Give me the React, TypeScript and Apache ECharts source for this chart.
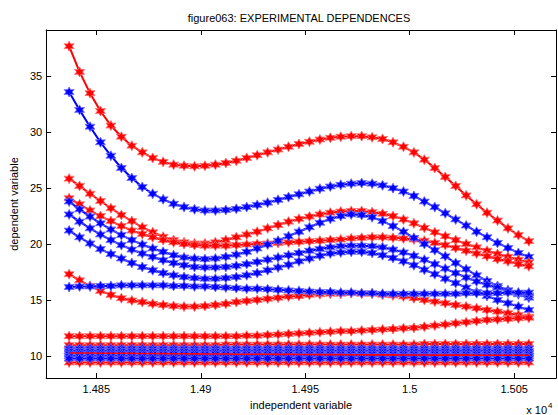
import React, { useEffect, useRef } from "react";
import * as echarts from "echarts";

const xValues = [
  14837, 14842, 14847, 14852, 14857, 14862, 14867, 14872, 14877, 14882, 14887, 14892, 14897, 14902, 14907,
  14912, 14917, 14922, 14927, 14932, 14937, 14942, 14947, 14952, 14957, 14962, 14967, 14972, 14977, 14982,
  14987, 14992, 14997, 15002, 15007, 15012, 15017, 15022, 15027, 15032, 15037, 15042, 15047, 15052, 15057,
];

const redA = [
  37.7, 35.4, 33.5, 31.9, 30.6, 29.6, 28.8, 28.2, 27.7, 27.35, 27.1, 27.0, 26.95, 27.0, 27.1,
  27.25, 27.45, 27.7, 27.95, 28.2, 28.45, 28.7, 28.95, 29.15, 29.35, 29.5, 29.6, 29.65, 29.65, 29.55,
  29.4, 29.1, 28.7, 28.2, 27.55, 26.8, 26.0, 25.2, 24.35, 23.55, 22.8, 22.1, 21.4, 20.8, 20.25,
];
const blueB = [
  33.6, 32.0, 30.5, 29.1, 27.9, 26.8, 25.9, 25.1, 24.5, 24.0, 23.6, 23.3, 23.1, 23.0, 23.0,
  23.05, 23.15, 23.3, 23.5, 23.7, 23.95, 24.2, 24.45, 24.7, 24.95, 25.15, 25.3, 25.4, 25.45, 25.4,
  25.25, 25.0, 24.7, 24.3, 23.8, 23.3, 22.75, 22.2, 21.65, 21.1, 20.6, 20.1, 19.65, 19.2, 18.85,
];
const redC = [
  25.85, 25.2, 24.5, 23.85, 23.2, 22.6, 22.05, 21.5, 21.05, 20.65, 20.35, 20.15, 20.05, 20.05, 20.15,
  20.35, 20.6, 20.85, 21.1, 21.4, 21.7, 22.0, 22.25, 22.45, 22.65, 22.8, 22.9, 22.95, 22.95, 22.85,
  22.7, 22.5, 22.2, 21.85, 21.45, 21.05, 20.7, 20.35, 20.0, 19.7, 19.4, 19.1, 18.85, 18.6, 18.35,
];
const redD = [
  24.1, 23.55, 23.0, 22.5, 22.05, 21.6, 21.2, 20.9, 20.6, 20.35, 20.15, 20.0, 19.9, 19.85, 19.85,
  19.85, 19.9, 19.95, 20.0, 20.05, 20.1, 20.15, 20.2, 20.25, 20.3, 20.35, 20.4, 20.5, 20.55, 20.6,
  20.6, 20.55, 20.5, 20.4, 20.3, 20.1, 19.9, 19.65, 19.4, 19.15, 18.9, 18.65, 18.45, 18.2, 18.0,
];
const blueE = [
  23.8, 23.1, 22.45, 21.85, 21.3, 20.8, 20.35, 19.95, 19.6, 19.3, 19.0, 18.8, 18.7, 18.65, 18.7,
  18.85, 19.05, 19.3, 19.6, 19.95, 20.3, 20.7, 21.1, 21.5, 21.9, 22.25, 22.5, 22.65, 22.6, 22.4,
  22.05, 21.6, 21.1, 20.55, 20.0, 19.45, 18.9, 18.3, 17.75, 17.2, 16.7, 16.25, 15.85, 15.5, 15.2,
];
const blueF = [
  22.65, 22.0, 21.4, 20.85, 20.35, 19.9, 19.5, 19.15, 18.85, 18.55, 18.3, 18.1, 17.95, 17.9, 17.9,
  17.95, 18.05, 18.2, 18.4, 18.6, 18.8, 19.0, 19.2, 19.4, 19.55, 19.7, 19.8, 19.85, 19.85, 19.8,
  19.7, 19.5, 19.25, 18.95, 18.6, 18.2, 17.8, 17.4, 17.0, 16.65, 16.35, 16.1, 15.85, 15.6, 15.4,
];
const blueG = [
  21.2, 20.6, 20.05, 19.55, 19.1, 18.7, 18.3, 17.95, 17.65, 17.4, 17.2, 17.05, 16.95, 16.9, 16.9,
  16.95, 17.05, 17.2, 17.4, 17.65, 17.9, 18.15, 18.45, 18.7, 18.95, 19.15, 19.25, 19.3, 19.3, 19.2,
  19.0, 18.75, 18.45, 18.1, 17.7, 17.3, 16.9, 16.5, 16.1, 15.7, 15.35, 15.0, 14.7, 14.4, 14.1,
];
const redH = [
  17.3, 16.75, 16.25, 15.8, 15.45, 15.15, 14.95, 14.8, 14.65, 14.55, 14.45, 14.4, 14.4, 14.45, 14.55,
  14.65, 14.8, 14.9, 15.0, 15.1, 15.2, 15.3, 15.35, 15.45, 15.5, 15.55, 15.55, 15.6, 15.55, 15.55,
  15.45, 15.4, 15.3, 15.15, 15.0, 14.85, 14.7, 14.55, 14.4, 14.25, 14.1, 13.95, 13.8, 13.65, 13.5,
];
const blueI = [
  16.15, 16.2, 16.2, 16.25, 16.25, 16.3, 16.3, 16.3, 16.3, 16.3, 16.25, 16.25, 16.2, 16.2, 16.15,
  16.1, 16.05, 16.0, 16.0, 15.95, 15.9, 15.85, 15.8, 15.75, 15.7, 15.7, 15.65, 15.65, 15.6, 15.6,
  15.55, 15.55, 15.55, 15.55, 15.55, 15.55, 15.55, 15.55, 15.6, 15.6, 15.6, 15.6, 15.65, 15.65, 15.65,
];
const redJ = [
  11.75, 11.75, 11.75, 11.75, 11.75, 11.75, 11.75, 11.75, 11.75, 11.75, 11.75, 11.75, 11.75, 11.75, 11.75,
  11.75, 11.75, 11.8, 11.8, 11.85, 11.9, 11.95, 12.0, 12.05, 12.1, 12.15, 12.2, 12.2, 12.25, 12.3,
  12.35, 12.4, 12.45, 12.5, 12.6, 12.7, 12.8, 12.9, 13.0, 13.1, 13.2, 13.25, 13.3, 13.35, 13.4,
];
const redK1 = [
  10.95, 10.95, 10.95, 10.95, 10.95, 10.95, 10.95, 10.95, 10.95, 10.95, 10.95, 10.95, 10.95, 10.95, 10.95,
  11.0, 11.0, 11.0, 11.0, 11.0, 11.0, 11.0, 11.0, 11.0, 11.0, 11.0, 11.0, 11.0, 11.0, 11.0,
  11.0, 11.0, 11.0, 11.0, 11.05, 11.05, 11.05, 11.05, 11.05, 11.05, 11.05, 11.05, 11.05, 11.05, 11.05,
];
const redK6 = [
  9.4, 9.4, 9.4, 9.4, 9.4, 9.4, 9.4, 9.4, 9.4, 9.4, 9.4, 9.4, 9.4, 9.4, 9.4,
  9.4, 9.4, 9.4, 9.4, 9.4, 9.4, 9.4, 9.4, 9.4, 9.4, 9.4, 9.4, 9.4, 9.4, 9.4,
  9.4, 9.4, 9.4, 9.4, 9.4, 9.4, 9.4, 9.4, 9.4, 9.4, 9.4, 9.4, 9.4, 9.4, 9.4,
];
const blueK2 = [
  10.65, 10.65, 10.65, 10.65, 10.65, 10.65, 10.65, 10.65, 10.65, 10.65, 10.65, 10.65, 10.65, 10.65, 10.65,
  10.65, 10.65, 10.65, 10.65, 10.65, 10.65, 10.65, 10.65, 10.65, 10.65, 10.65, 10.65, 10.65, 10.65, 10.65,
  10.65, 10.65, 10.65, 10.65, 10.65, 10.65, 10.65, 10.65, 10.65, 10.65, 10.65, 10.65, 10.65, 10.65, 10.65,
];
const blueK3 = [
  10.2, 10.2, 10.2, 10.2, 10.2, 10.2, 10.2, 10.2, 10.2, 10.2, 10.2, 10.2, 10.2, 10.2, 10.2,
  10.2, 10.2, 10.2, 10.2, 10.2, 10.2, 10.2, 10.2, 10.2, 10.2, 10.2, 10.2, 10.2, 10.2, 10.2,
  10.2, 10.2, 10.2, 10.2, 10.2, 10.2, 10.2, 10.2, 10.2, 10.2, 10.2, 10.2, 10.2, 10.2, 10.2,
];
const blueK4 = [
  9.75, 9.75, 9.75, 9.75, 9.75, 9.75, 9.75, 9.75, 9.75, 9.75, 9.75, 9.75, 9.75, 9.75, 9.75,
  9.75, 9.75, 9.75, 9.75, 9.75, 9.75, 9.75, 9.75, 9.75, 9.75, 9.75, 9.75, 9.75, 9.75, 9.75,
  9.75, 9.75, 9.75, 9.75, 9.75, 9.75, 9.75, 9.75, 9.75, 9.75, 9.75, 9.75, 9.75, 9.75, 9.75,
];
const blueK5 = [
  10.42, 10.42, 10.42, 10.42, 10.42, 10.42, 10.42, 10.42, 10.42, 10.42, 10.42, 10.42, 10.42, 10.42, 10.42,
  10.42, 10.42, 10.42, 10.42, 10.42, 10.42, 10.42, 10.42, 10.42, 10.42, 10.42, 10.42, 10.42, 10.42, 10.42,
  10.42, 10.42, 10.42, 10.42, 10.42, 10.42, 10.42, 10.42, 10.42, 10.42, 10.42, 10.42, 10.42, 10.42, 10.42,
];
const blueK6 = [
  9.97, 9.97, 9.97, 9.97, 9.97, 9.97, 9.97, 9.97, 9.97, 9.97, 9.97, 9.97, 9.97, 9.97, 9.97,
  9.97, 9.97, 9.97, 9.97, 9.97, 9.97, 9.97, 9.97, 9.97, 9.97, 9.97, 9.97, 9.97, 9.97, 9.97,
  9.97, 9.97, 9.97, 9.97, 9.97, 9.97, 9.97, 9.97, 9.97, 9.97, 9.97, 9.97, 9.97, 9.97, 9.97,
];
const redK5 = [
  10.25, 10.25, 10.24, 10.23, 10.22, 10.22, 10.21, 10.2, 10.2, 10.19, 10.18, 10.18, 10.17, 10.16, 10.16,
  10.15, 10.14, 10.14, 10.13, 10.13, 10.12, 10.12, 10.11, 10.11, 10.1, 10.1, 10.1, 10.09, 10.09, 10.08,
  10.08, 10.08, 10.07, 10.07, 10.07, 10.06, 10.06, 10.06, 10.06, 10.05, 10.05, 10.05, 10.05, 10.05, 10.05,
];

const xTickValues = [14850, 14900, 14950, 15000, 15050];
const xTickLabels = ["1.485", "1.49", "1.495", "1.5", "1.505"];
const yTickValues = [10, 15, 20, 25, 30, 35];

const RED = "#ff0000";
const BLUE = "#0000ff";
const RED_HALO = "rgba(255,110,110,0.85)";
const BLUE_HALO = "rgba(110,110,255,0.85)";
const STAR =
  "path://M0,-10L2.6,-4.5L8.7,-5L5.2,0L8.7,5L2.6,4.5L0,10L-2.6,4.5L-8.7,5L-5.2,0L-8.7,-5L-2.6,-4.5Z";
const FONT = "Liberation Sans, Arial, Helvetica, sans-serif";

const seriesList: { ys: number[]; color: string; halo: string; marker: boolean }[] = [
  { ys: redA, color: RED, halo: RED_HALO, marker: true },
  { ys: blueB, color: BLUE, halo: BLUE_HALO, marker: true },
  { ys: redC, color: RED, halo: RED_HALO, marker: true },
  { ys: redD, color: RED, halo: RED_HALO, marker: true },
  { ys: blueE, color: BLUE, halo: BLUE_HALO, marker: true },
  { ys: blueF, color: BLUE, halo: BLUE_HALO, marker: true },
  { ys: blueG, color: BLUE, halo: BLUE_HALO, marker: true },
  { ys: redH, color: RED, halo: RED_HALO, marker: true },
  { ys: blueI, color: BLUE, halo: BLUE_HALO, marker: true },
  { ys: redJ, color: RED, halo: RED_HALO, marker: true },
  { ys: redK1, color: RED, halo: RED_HALO, marker: true },
  { ys: redK6, color: RED, halo: RED_HALO, marker: true },
  { ys: blueK2, color: BLUE, halo: BLUE_HALO, marker: true },
  { ys: blueK5, color: BLUE, halo: BLUE_HALO, marker: true },
  { ys: blueK3, color: BLUE, halo: BLUE_HALO, marker: true },
  { ys: blueK6, color: BLUE, halo: BLUE_HALO, marker: true },
  { ys: blueK4, color: BLUE, halo: BLUE_HALO, marker: true },
  { ys: redK5, color: RED, halo: RED_HALO, marker: false },
];

export default function App() {
  const ref = useRef<HTMLDivElement>(null);
  useEffect(() => {
    if (!ref.current) return;
    const chart = echarts.init(ref.current, null, { renderer: "svg" });
    const axisCommon = {
      axisLine: { show: true, onZero: false, lineStyle: { color: "#000", width: 1 } },
      splitLine: { show: false },
    };
    chart.setOption({
      animation: false,
      backgroundColor: "#fff",
      grid: { left: 42, right: 2, top: 30, bottom: 33, containLabel: false },
      xAxis: [
        {
          type: "value",
          min: 14826,
          max: 15070,
          position: "bottom",
          ...axisCommon,
          axisTick: { show: true, inside: true, length: 5, customValues: xTickValues, lineStyle: { color: "#000" } },
          axisLabel: {
            show: true,
            customValues: xTickValues,
            margin: 5,
            color: "#000",
            fontSize: 11,
            fontFamily: FONT,
            formatter: (v: number) => {
              const i = xTickValues.indexOf(v);
              return i >= 0 ? xTickLabels[i] : "";
            },
          },
          name: "independent variable",
          nameLocation: "middle",
          nameGap: 17,
          nameTextStyle: { color: "#000", fontSize: 11, fontFamily: FONT },
        },
        {
          type: "value",
          min: 14826,
          max: 15070,
          position: "top",
          ...axisCommon,
          axisTick: { show: true, inside: true, length: 5, customValues: xTickValues, lineStyle: { color: "#000" } },
          axisLabel: { show: false },
        },
      ],
      yAxis: [
        {
          type: "value",
          min: 8,
          max: 39.15,
          position: "left",
          ...axisCommon,
          axisTick: { show: true, inside: true, length: 5, customValues: yTickValues, lineStyle: { color: "#000" } },
          axisLabel: {
            show: true,
            customValues: yTickValues,
            margin: 4,
            color: "#000",
            fontSize: 11,
            fontFamily: FONT,
          },
          name: "dependent variable",
          nameLocation: "middle",
          nameGap: 21,
          nameTextStyle: { color: "#000", fontSize: 11, fontFamily: FONT },
        },
        {
          type: "value",
          min: 8,
          max: 39.15,
          position: "right",
          ...axisCommon,
          axisTick: { show: true, inside: true, length: 5, customValues: yTickValues, lineStyle: { color: "#000" } },
          axisLabel: { show: false },
        },
      ],
      graphic: [
        {
          type: "text",
          x: 299,
          y: 18,
          style: {
            text: "figure063: EXPERIMENTAL DEPENDENCES",
            align: "center",
            verticalAlign: "middle",
            fill: "#000",
            font: `11px ${FONT}`,
          },
        },
        {
          type: "text",
          x: 547,
          y: 410,
          style: { text: "x 10", align: "right", verticalAlign: "middle", fill: "#000", font: `11px ${FONT}` },
        },
        {
          type: "text",
          x: 548,
          y: 405,
          style: { text: "4", align: "left", verticalAlign: "middle", fill: "#000", font: `8px ${FONT}` },
        },
      ],
      series: seriesList.map((s, idx) => ({
        type: "line",
        xAxisIndex: 0,
        yAxisIndex: 0,
        data: xValues.map((x, i) => [x, s.ys[i]]),
        symbol: s.marker ? STAR : "none",
        symbolSize: 10,
        showSymbol: s.marker,
        lineStyle: { color: s.color, width: s.marker ? 2 : 1.6 },
        itemStyle: { color: s.color, borderColor: s.halo, borderWidth: 1 },
        z: 2 + idx * 0.01,
        silent: true,
      })),
    });
    return () => chart.dispose();
  }, []);
  return (
    <div
      ref={ref}
      style={{ position: "absolute", left: 0, top: 0, width: 558, height: 415, background: "#fff" }}
    />
  );
}
